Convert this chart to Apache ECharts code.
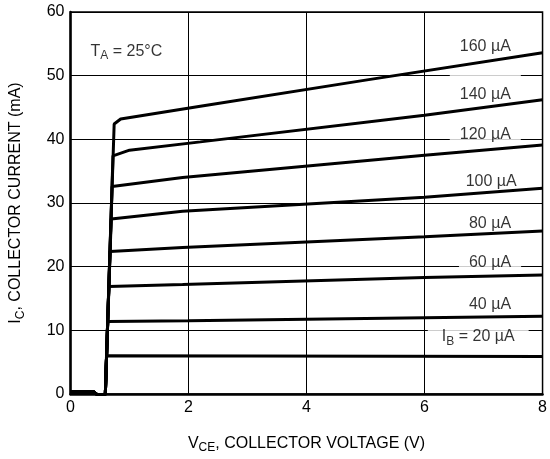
<!DOCTYPE html>
<html><head><meta charset="utf-8">
<script src="https://cdn.jsdelivr.net/npm/echarts@6/dist/echarts.min.js"></script>
<style>html,body{margin:0;padding:0;background:#fff}#c{width:550px;height:459px}</style>
</head><body><div id="c"></div>
<script>
// Collector characteristic curves: [V_CE (V), I_C (mA)]
const ib160 = [[0,0.3],[0.4,0.3],[0.45,-0.1],[0.59,-0.1],[0.74,42.4],[0.85,43.2],[2.2,45.2],[5,49.3],[8,53.6]];
const ib140 = [[0,0.3],[0.4,0.3],[0.45,-0.1],[0.59,-0.1],[0.72,37.4],[1.0,38.3],[2.2,39.6],[6,43.8],[8,46.2]];
const ib120 = [[0,0.3],[0.4,0.3],[0.45,-0.1],[0.59,-0.1],[0.705,32.6],[1.9,34.0],[6,37.5],[8,39.1]];
const ib100 = [[0,0.3],[0.4,0.3],[0.45,-0.1],[0.59,-0.1],[0.69,27.5],[1.9,28.7],[6,30.9],[8,32.3]];
const ib80  = [[0,0.3],[0.4,0.3],[0.45,-0.1],[0.59,-0.1],[0.67,22.4],[1.9,23.0],[6,24.7],[8,25.6]];
const ib60  = [[0,0.3],[0.4,0.3],[0.45,-0.1],[0.59,-0.1],[0.65,16.9],[1.9,17.2],[6,18.3],[8,18.7]];
const ib40  = [[0,0.3],[0.4,0.3],[0.45,-0.1],[0.59,-0.1],[0.63,11.4],[2,11.5],[8,12.2]];
const ib20  = [[0,0.3],[0.4,0.3],[0.45,-0.1],[0.59,-0.1],[0.61,6.0],[8,5.9]];
const curves = [ib160, ib140, ib120, ib100, ib80, ib60, ib40, ib20];

// Curve labels: text and anchor [V, mA]
const labelTexts = ['160 µA','140 µA','120 µA','100 µA','80 µA','60 µA','40 µA','{m|I}{s|B}{m| = 20 µA}'];
const labelV = [7.03, 7.03, 7.03, 7.13, 7.11, 7.11, 7.11, 6.91];
const labelI = [54.6, 47.9, 40.7, 33.3, 26.7, 20.5, 14.1, 9.0];

const xTicks = [0, 2, 4, 6, 8];
const yTicks = [0, 10, 20, 30, 40, 50, 60];

const FONT = '"Liberation Sans Narrow", "Liberation Sans", Arial, sans-serif';
const pads = [[2,10,2,10],[14,10,2,10],[2,10,2,10],[2,10,2,10],[2,10,2,10],[2,10,3,10],[2,10,2,10],[2,14,2,14]];
const rich = {
  m:{fontSize:16,fontFamily:FONT,color:'#000'},
  s:{fontSize:12,fontFamily:FONT,color:'#000',verticalAlign:'top',padding:[9,0,0,0]}
};

const chart = echarts.init(document.getElementById('c'));
const series = curves.map(d => ({
  type:'line', data:d, symbol:'none', z:3, silent:true,
  lineStyle:{color:'#000', width:3}
}));
series.push({
  type:'scatter', z:1, symbolSize:0, silent:true,
  data: labelTexts.map((t,i)=>({
    value:[labelV[i], labelI[i]], name:t,
    label:{padding:pads[i]}
  })),
  label:{show:true, position:'inside', formatter:p=>p.name.startsWith('{')?p.name:'{m|'+p.name+'}',
    backgroundColor:'#fff', rich:rich}
});
series.push({
  type:'scatter', z:1, symbolSize:0, silent:true,
  data:[{value:[0.34,53.8], name:'{m|T}{s|A}{m| = 25°C}'}],
  label:{show:true, position:'right', distance:0, formatter:p=>p.name, rich:rich}
});

chart.setOption({
  animation:false,
  backgroundColor:'#fff',
  grid:{left:68, right:5, top:12, bottom:61.5, show:true, borderColor:'#000', borderWidth:1.5},
  xAxis:{type:'value', min:0, max:8, interval:2,
    axisLine:{show:true, onZero:false, lineStyle:{color:'#000', width:2.5}},
    axisTick:{show:false},
    splitLine:{show:true, lineStyle:{color:'#000', width:1}},
    axisLabel:{color:'#000', fontSize:16, fontFamily:FONT, margin:6, formatter:v=>xTicks.includes(v)?String(v):''},
    name:'{m|V}{s|CE}{m|, COLLECTOR VOLTAGE (V)}', nameLocation:'middle', nameGap:39,
    nameTextStyle:{rich:rich}
  },
  yAxis:{type:'value', min:0, max:60, interval:10,
    axisLine:{show:true, lineStyle:{color:'#000', width:2.5}},
    axisTick:{show:false},
    splitLine:{show:true, lineStyle:{color:'#000', width:1}},
    axisLabel:{color:'#000', fontSize:16, fontFamily:FONT, margin:6, formatter:v=>yTicks.includes(v)?String(v):''},
    name:'{m|I}{s|C}{m|, COLLECTOR CURRENT (mA)}', nameLocation:'middle', nameGap:44, nameRotate:90,
    nameTextStyle:{rich:rich}
  },
  series:series
});
</script></body></html>
